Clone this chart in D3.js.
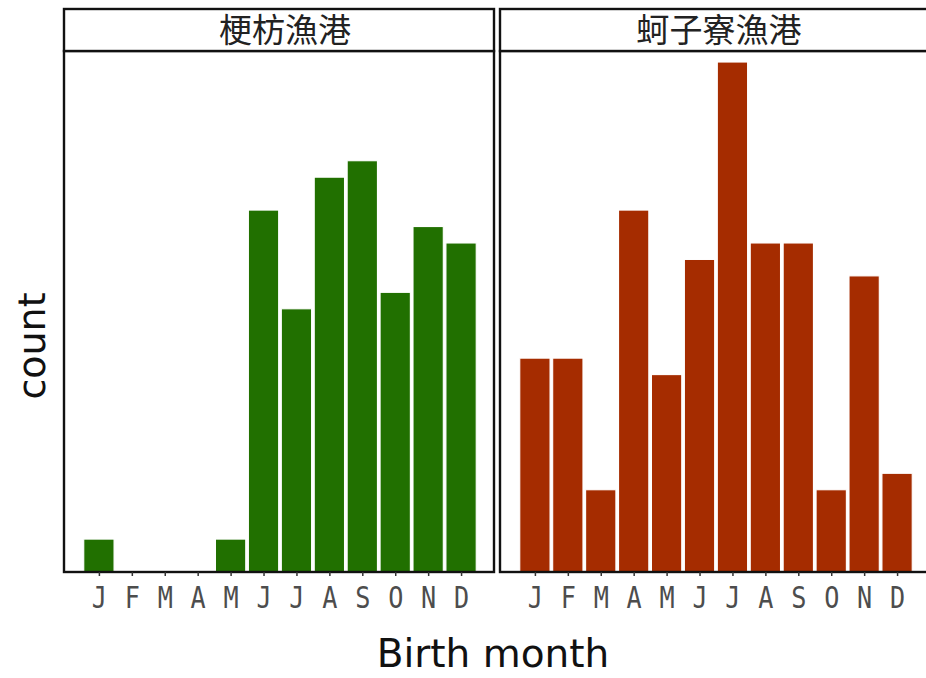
<!DOCTYPE html>
<html>
<head>
<meta charset="utf-8">
<script src="https://cdn.jsdelivr.net/npm/d3@7"></script>
<style>
  html, body { margin: 0; padding: 0; background: #fff; }
  svg { display: block; }
</style>
</head>
<body>
<svg id="chart" width="926" height="678"></svg>
<script>
// Birth months of fish sampled at two harbours
const months = ["J", "F", "M", "A", "M", "J", "J", "A", "S", "O", "N", "D"];
const ports = ["梗枋漁港", "蚵子寮漁港"];
const countsGengfang = [2, 0, 0, 0, 2, 22, 16, 24, 25, 17, 21, 20];
const countsKezailiao = [13, 13, 5, 22, 12, 19, 31, 20, 20, 5, 18, 6];
const seriesCounts = [countsGengfang, countsKezailiao];
const fills = ["#217000", "#A52C00"];

const svg = d3.select("#chart");

const panelTop = 51, panelBottom = 572;
const stripTop = 9;
const panels = [
  { x0: 64, x1: 494 },
  { x0: 500, x1: 930 }
];

// shared count axis (no tick labels drawn)
const y = d3.scaleLinear().domain([0, 31.67]).range([panelBottom, panelTop]);

panels.forEach((p, k) => {
  const x = d3.scaleLinear().domain([-0.06, 13]).range([p.x0, p.x1]);
  const unit = x(1) - x(0);
  const g = svg.append("g");

  // panel background
  g.append("rect")
    .attr("x", p.x0).attr("y", panelTop)
    .attr("width", p.x1 - p.x0).attr("height", panelBottom - panelTop)
    .attr("fill", "#fff");

  // bars
  const data = seriesCounts[k].map((v, i) => ({ m: i + 1, v }));
  g.selectAll("rect.bar")
    .data(data.filter(d => d.v > 0))
    .join("rect")
    .attr("class", "bar")
    .attr("x", d => x(d.m) - unit * 0.46)
    .attr("width", unit * 0.92)
    .attr("y", d => y(d.v))
    .attr("height", d => y(0) - y(d.v))
    .attr("fill", fills[k])
    .attr("stroke", "#fff")
    .attr("stroke-width", 1.1);

  // panel border
  g.append("rect")
    .attr("x", p.x0).attr("y", panelTop)
    .attr("width", p.x1 - p.x0).attr("height", panelBottom - panelTop)
    .attr("fill", "none")
    .attr("stroke", "#111")
    .attr("stroke-width", 2.4);

  // facet strip
  g.append("rect")
    .attr("x", p.x0).attr("y", stripTop)
    .attr("width", p.x1 - p.x0).attr("height", panelTop - stripTop)
    .attr("fill", "#fff")
    .attr("stroke", "#111")
    .attr("stroke-width", 2.4);
  g.append("text")
    .attr("x", (p.x0 + p.x1) / 2 + (k === 0 ? 6 : 4))
    .attr("y", 42)
    .attr("text-anchor", "middle")
    .attr("font-family", "'Noto Sans CJK TC', 'Noto Sans CJK SC', sans-serif")
    .attr("font-size", 33)
    .attr("fill", "#222")
    .text(ports[k]);

  // month axis
  const axis = d3.axisBottom(x)
    .tickValues(d3.range(1, 13))
    .tickFormat(d => months[d - 1])
    .tickSize(4)
    .tickPadding(0);
  const ax = g.append("g")
    .attr("transform", `translate(0,${panelBottom})`)
    .call(axis);
  ax.select(".domain").remove();
  ax.selectAll(".tick line").attr("stroke", "#333").attr("stroke-width", 1.5);
  ax.selectAll(".tick text")
    .attr("y", 0)
    .attr("dy", null)
    .attr("transform", "translate(0,36) scale(0.9,1.05)")
    .attr("font-family", "'DejaVu Sans Mono', monospace")
    .attr("font-size", 28)
    .attr("fill", "#4d4d4d");
});

// axis titles
svg.append("text")
  .attr("x", 493).attr("y", 667)
  .attr("text-anchor", "middle")
  .attr("font-family", "'DejaVu Sans', Verdana, sans-serif")
  .attr("font-size", 39)
  .attr("fill", "#111")
  .text("Birth month");

svg.append("text")
  .attr("transform", "translate(45,346) rotate(-90)")
  .attr("text-anchor", "middle")
  .attr("font-family", "'DejaVu Sans', Verdana, sans-serif")
  .attr("font-size", 38)
  .attr("fill", "#111")
  .text("count");
</script>
</body>
</html>
